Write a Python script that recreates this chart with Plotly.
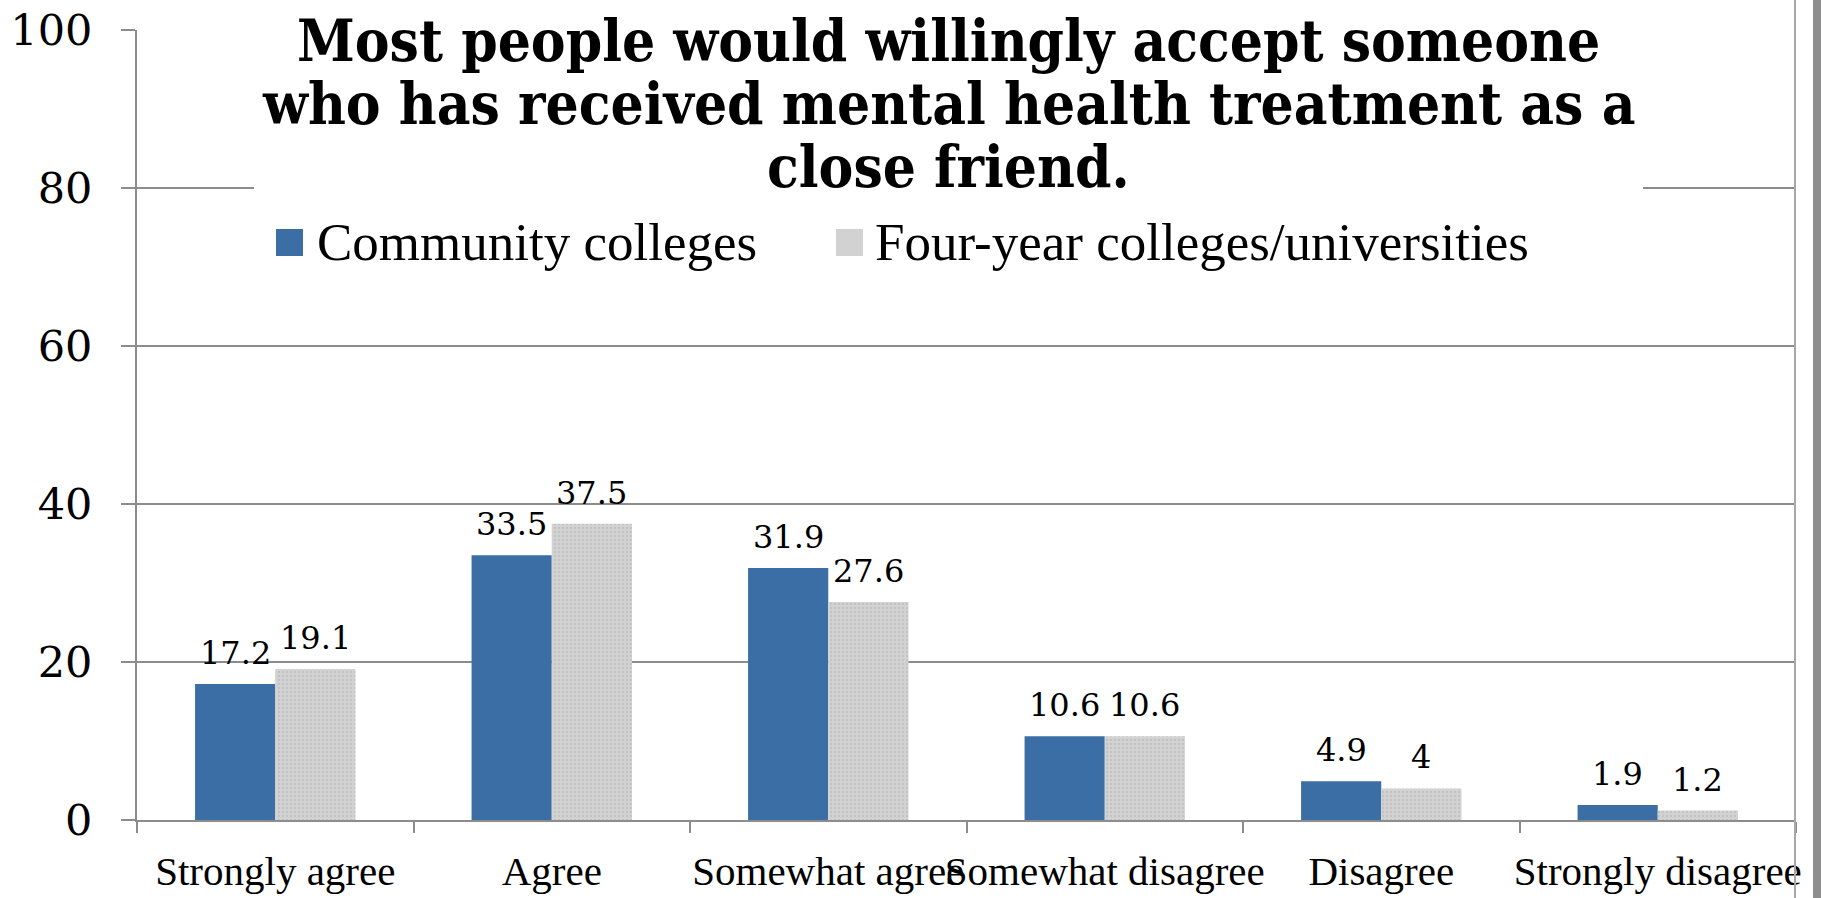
import plotly.graph_objects as go

# Survey responses (percent of respondents)
categories = ["Strongly agree", "Agree", "Somewhat agree",
              "Somewhat disagree", "Disagree", "Strongly disagree"]
community = [17.2, 33.5, 31.9, 10.6, 4.9, 1.9]
four_year = [19.1, 37.5, 27.6, 10.6, 4, 1.2]
series_names = ["Community colleges", "Four-year colleges/universities"]
y_ticks = [0, 20, 40, 60, 80, 100]
title_lines = ["Most people would willingly accept someone",
               "who has received mental health treatment as a",
               "close friend."]

BLUE = "#3A6EA5"
GRAY = "#D2D2D2"
GRID = "#8C8C8C"
SERIF = "Liberation Serif"
WIDE_SERIF = "DejaVu Serif"

# plot area in pixels
W, H = 1821, 898
L, R, T, B = 137, 25, 30, 78
PW, PH = W - L - R, H - T - B


def px(xp):
    return (xp - L) / PW


def py(yp):
    return (H - B - yp) / PH


fig = go.Figure()
fig.add_bar(x=categories, y=community, name=series_names[0],
            marker=dict(color=BLUE, line=dict(width=0)), showlegend=False)
fig.add_bar(x=categories, y=four_year, name=series_names[1],
            marker=dict(color=GRAY, line=dict(width=0),
                        pattern=dict(shape=".", fgcolor="#BDBDBD", bgcolor=GRAY,
                                     size=4, solidity=0.2)),
            showlegend=False)

annotations = []
# value labels above each bar
for series, shift in ((community, -40), (four_year, 40)):
    for cat, val in zip(categories, series):
        annotations.append(dict(
            x=cat, y=val, xref="x", yref="y", text=f"{val:g}",
            showarrow=False, xanchor="center", yanchor="bottom",
            xshift=shift, yshift=10,
            font=dict(family=WIDE_SERIF, size=32, color="black")))

# title, one line per annotation for tight leading
for line, yc in zip(title_lines, (41, 104, 167)):
    annotations.append(dict(
        x=px(948), y=py(yc), xref="paper", yref="paper", text=f"<b>{line}</b>",
        showarrow=False, xanchor="center", yanchor="middle",
        font=dict(family="DejaVu Serif Condensed, " + SERIF, size=58, color="black")))

# legend text
for name, x0 in zip(series_names, (315, 873)):
    annotations.append(dict(
        x=px(x0), y=py(242), xref="paper", yref="paper", text=name,
        showarrow=False, xanchor="left", yanchor="middle",
        font=dict(family=SERIF, size=53, color="black")))

shapes = [
    # white panel behind the title
    dict(type="rect", xref="paper", yref="paper", x0=px(254), x1=px(1643),
         y0=py(205), y1=py(-5), fillcolor="white", line=dict(width=0), layer="above"),
    # legend keys
    dict(type="rect", xref="paper", yref="paper", x0=px(276), x1=px(303),
         y0=py(256), y1=py(229), fillcolor=BLUE, line=dict(width=0), layer="above"),
    dict(type="rect", xref="paper", yref="paper", x0=px(836), x1=px(863),
         y0=py(256), y1=py(229), fillcolor=GRAY, line=dict(width=0), layer="above"),
    # right frame line and page edge
    dict(type="line", xref="paper", yref="paper", x0=px(1795), x1=px(1795),
         y0=py(H + 2), y1=py(-2), line=dict(color="#A8A8A8", width=2), layer="above"),
    dict(type="rect", xref="paper", yref="paper", x0=px(1813), x1=px(1822),
         y0=py(H + 2), y1=py(-2), fillcolor="#8E8E8E", line=dict(width=0), layer="above"),
]

fig.update_layout(
    template="none",
    width=W, height=H,
    margin=dict(l=L, r=R, t=T, b=B, pad=0),
    paper_bgcolor="white", plot_bgcolor="white",
    barmode="group", bargap=0.42, bargroupgap=0,
    showlegend=False,
    annotations=annotations,
    shapes=shapes,
    font=dict(family=SERIF, color="black"),
)
fig.update_xaxes(
    type="category", showgrid=False, showline=True, linecolor=GRID, linewidth=2,
    ticks="outside", tickson="boundaries", ticklen=11, tickwidth=2, tickcolor=GRID,
    tickangle=0, tickfont=dict(family=SERIF, size=41, color="black"),
    ticklabelstandoff=14, zeroline=False,
)
fig.update_yaxes(
    range=[0, 100], tickvals=y_ticks, showgrid=True, gridcolor=GRID, gridwidth=2,
    showline=True, linecolor=GRID, linewidth=2, zeroline=False,
    ticks="outside", ticklen=14, tickwidth=2, tickcolor=GRID,
    tickfont=dict(family=WIDE_SERIF, size=43, color="black"),
    ticklabelstandoff=20,
)

fig.write_html("out.html")
